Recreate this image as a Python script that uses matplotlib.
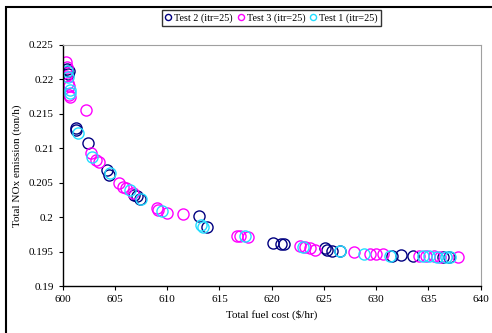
import matplotlib
matplotlib.use('Agg')
import matplotlib.pyplot as plt
from matplotlib.patches import Rectangle

plt.rcParams['font.family'] = ['Liberation Serif', 'DejaVu Serif']

# Test 2 (navy)
t2_cost = [600.4, 600.5, 600.6, 601.27, 601.3, 602.45, 604.2, 604.46, 606.8, 607.1,
           607.4, 613.0, 613.8, 620.15, 620.9, 621.2, 625.1, 625.3, 625.8, 626.5,
           631.5, 632.4, 633.5, 636.4, 637.0]
t2_nox = [0.2215, 0.2208, 0.2212, 0.2130, 0.2127, 0.2108, 0.2068, 0.2061, 0.2032, 0.2030,
          0.2027, 0.2001, 0.1986, 0.1962, 0.1961, 0.1961, 0.1955, 0.1952, 0.1951, 0.1951,
          0.1944, 0.1945, 0.1944, 0.1942, 0.1942]

# Test 3 (magenta)
t3_cost = [600.3, 600.4, 600.3, 600.5, 600.6, 600.6, 600.7, 602.23, 602.7, 603.2,
           603.5, 605.4, 605.8, 606.1, 606.7, 609.0, 609.15, 609.95, 611.5, 616.65,
           617.0, 617.75, 622.7, 623.2, 623.7, 624.1, 627.9, 629.4, 630.0, 630.7,
           634.1, 634.8, 635.5, 636.1, 637.85]
t3_nox = [0.2225, 0.2218, 0.2205, 0.2195, 0.2190, 0.2178, 0.2175, 0.2156, 0.2093, 0.2083,
          0.2080, 0.2049, 0.2044, 0.2042, 0.2035, 0.2014, 0.2011, 0.2006, 0.2005, 0.1973,
          0.1973, 0.1971, 0.1958, 0.1956, 0.1955, 0.1953, 0.1949, 0.1946, 0.1946, 0.1946,
          0.1943, 0.1943, 0.1943, 0.1942, 0.1942]

# Test 1 (cyan)
t1_cost = [600.4, 600.5, 600.7, 600.7, 601.5, 602.8, 604.5, 606.4, 607.5, 609.5,
           613.2, 613.4, 617.4, 622.97, 626.5, 628.8, 631.3, 634.5, 635.1, 635.8,
           636.7, 637.1]
t1_nox = [0.2212, 0.2203, 0.2185, 0.2180, 0.2122, 0.2087, 0.2064, 0.2039, 0.2026, 0.2009,
          0.1989, 0.1986, 0.1972, 0.1956, 0.1951, 0.1947, 0.1944, 0.1943, 0.1943, 0.1942,
          0.1942, 0.1942]

xticks = [600, 605, 610, 615, 620, 625, 630, 635, 640]
yticks = [0.19, 0.195, 0.2, 0.205, 0.21, 0.215, 0.22, 0.225]
ylabels = ['0.19', '0.195', '0.2', '0.205', '0.21', '0.215', '0.22', '0.225']

fig = plt.figure(figsize=(4.92, 3.33), dpi=100)
ax = fig.add_axes([0.1274, 0.1411, 0.8496, 0.7238])

ms = 8
ax.plot(t2_cost, t2_nox, 'o', mfc='none', mec='#000080', mew=1.0, ms=ms, label='Test 2 (itr=25)')
ax.plot(t3_cost, t3_nox, 'o', mfc='none', mec='#FF00FF', mew=1.0, ms=ms, label='Test 3 (itr=25)')
ax.plot(t1_cost, t1_nox, 'o', mfc='none', mec='#22DDFF', mew=1.0, ms=ms, label='Test 1 (itr=25)')

ax.set_xlim(600, 640)
ax.set_ylim(0.19, 0.225)
ax.set_xticks(xticks)
ax.set_yticks(yticks)
ax.set_yticklabels(ylabels)
ax.tick_params(labelsize=8, length=3, direction='out', width=0.8)
ax.set_xlabel('Total fuel cost ($/hr)', fontsize=8)
ax.set_ylabel('Total NOx emission (ton/h)', fontsize=8, labelpad=5)

ax.spines['top'].set_color('#A0A0A0')
ax.spines['right'].set_color('#A0A0A0')
ax.spines['left'].set_linewidth(1.0)
ax.spines['bottom'].set_linewidth(1.0)

leg = fig.legend(loc='upper center', bbox_to_anchor=(0.551, 0.975), ncol=3, fontsize=7.3,
                 frameon=True, fancybox=False, markerscale=0.55, handlelength=0.7,
                 handletextpad=0.25, columnspacing=0.4, borderpad=0.3, borderaxespad=0.2)
leg.get_frame().set_edgecolor('black')
leg.get_frame().set_linewidth(1.0)

# outer chart-area border
fig.patches.append(Rectangle((6 / 492, -0.1), 1.2, (333 - 7) / 333 + 0.1,
                             transform=fig.transFigure, fill=False,
                             edgecolor='black', linewidth=1.5))

fig.savefig('out.png', dpi=100)
